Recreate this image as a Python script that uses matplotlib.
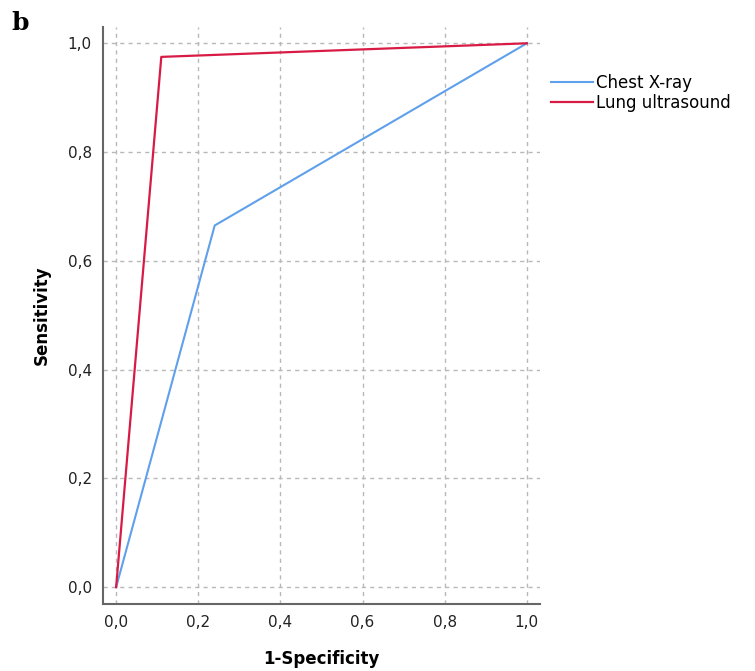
import matplotlib
matplotlib.use("Agg")
import matplotlib.pyplot as plt

# ROC curve points
xray_fpr = [0.0, 0.24, 1.0]
xray_tpr = [0.0, 0.665, 1.0]
lus_fpr = [0.0, 0.11, 1.0]
lus_tpr = [0.0, 0.975, 1.0]
ticks = [0.0, 0.2, 0.4, 0.6, 0.8, 1.0]
tick_labels = ["0,0", "0,2", "0,4", "0,6", "0,8", "1,0"]

fig = plt.figure(figsize=(7.55, 6.71), dpi=100)
ax = fig.add_axes([0.1364, 0.0998, 0.5788, 0.8600])

ax.plot(xray_fpr, xray_tpr, color="#5fa0ec", lw=1.5, label="Chest X-ray")
ax.plot(lus_fpr, lus_tpr, color="#d81b45", lw=1.6, label="Lung ultrasound")

ax.set_xlim(-0.032, 1.032)
ax.set_ylim(-0.031, 1.03)
ax.set_xticks(ticks)
ax.set_yticks(ticks)
ax.set_xticklabels(tick_labels)
ax.set_yticklabels(tick_labels)
ax.tick_params(length=0, labelsize=11, pad=8, colors="#222222")
ax.grid(True, ls=(0, (3, 3)), color="#b8b8b8", lw=1)
for s in ["top", "right"]:
    ax.spines[s].set_visible(False)
for s in ["left", "bottom"]:
    ax.spines[s].set_color("#666666")
    ax.spines[s].set_linewidth(1.5)

ax.set_xlabel("1-Specificity", fontsize=12, fontweight="bold", labelpad=14)
ax.set_ylabel("Sensitivity", fontsize=12, fontweight="bold", labelpad=12)

leg = ax.legend(loc="upper left", bbox_to_anchor=(1.01, 0.93), frameon=False,
                fontsize=12, handlelength=2.5, handletextpad=0.2,
                labelspacing=0.1, borderaxespad=0)

fig.text(0.015, 0.955, "b", fontsize=18, fontweight="bold", family="DejaVu Serif")

fig.savefig("out.png", dpi=100)
